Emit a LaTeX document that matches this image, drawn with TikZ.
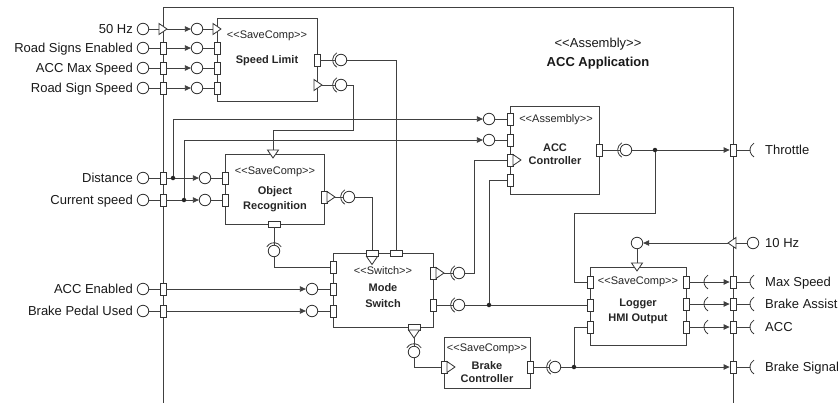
\documentclass[tikz,border=0pt]{standalone}
\usepackage{fontspec}
\setmainfont{Liberation Sans}[Ligatures=TeXOff]
\usetikzlibrary{arrows.meta}
\newcommand\mylbl{\fontsize{13}{15}\selectfont}
\newcommand\mytxt{\fontsize{11}{13}\selectfont}
\begin{document}
\begin{tikzpicture}[x=1pt,y=-1pt,
  wire/.style={draw=black!75,line width=0.8pt},
  arr/.style={wire,-{Triangle[length=6pt,width=5.5pt]}},
  comp/.style={rectangle,draw=black!75,line width=0.8pt,fill=white,inner sep=0pt},
  vport/.style={rectangle,draw=black!80,line width=0.8pt,fill=white,inner sep=0pt,minimum width=6pt,minimum height=12pt},
  hport/.style={rectangle,draw=black!80,line width=0.8pt,fill=white,inner sep=0pt,minimum width=12pt,minimum height=6pt},
  ball/.style={circle,draw=black!80,line width=0.8pt,fill=white,inner sep=0pt,minimum size=11.5pt},
  dot/.style={circle,fill=black!85,inner sep=0pt,minimum size=4.5pt},
  lbl/.style={inner sep=0pt,font=\mylbl,text=black!90,yshift=-4.6pt},
  txt/.style={inner sep=0pt,font=\mytxt,text=black!85,anchor=base,yshift=-3.9pt},
  btxt/.style={inner sep=0pt,font=\mytxt\bfseries,text=black!85,anchor=base,yshift=-3.9pt},
  ttl/.style={inner sep=0pt,font=\mylbl,text=black!90,anchor=base,yshift=-4.6pt},
  bttl/.style={inner sep=0pt,font=\mylbl\bfseries,text=black!90,anchor=base,yshift=-4.6pt},
  trir/.pic={\draw[black!80,line width=0.8pt,fill=white] (0,-5.5) -- (8,0) -- (0,5.5) -- cycle;},
  tril/.pic={\draw[black!80,line width=0.8pt,fill=white] (0,-5.5) -- (-8,0) -- (0,5.5) -- cycle;},
  trid/.pic={\draw[black!80,line width=0.8pt,fill=white] (-5.5,0) -- (0,8) -- (5.5,0) -- cycle;},
  sockl/.pic={\draw[black!80,line width=0.8pt] (120:8.3) arc[start angle=120,end angle=240,radius=8.3];},
  sockt/.pic={\draw[black!80,line width=0.8pt] (210:8.3) arc[start angle=210,end angle=330,radius=8.3];},
  sockr/.pic={\draw[black!80,line width=0.8pt] (120:8) arc[start angle=120,end angle=240,radius=8];}
]
\useasboundingbox (0,0) rectangle (838,402);
% assembly frame
\draw[wire] (163,410) -- (163,7) -- (733,7) -- (733,410);
\node[ttl] (asst) at (598,43) {<<Assembly>>};
\node[bttl] (assn) at (598,62) {ACC Application};

% component boxes
\node[comp,minimum width=100pt,minimum height=83pt] (sl) at (267,59.5) {};
\node[comp,minimum width=99pt,minimum height=70pt] (objrec) at (274.5,189) {};
\node[comp,minimum width=89pt,minimum height=88pt] (acc) at (554.5,150) {};
\node[comp,minimum width=100pt,minimum height=74pt] (ms) at (383,290) {};
\node[comp,minimum width=86pt,minimum height=51pt] (br) at (487,362.5) {};
\node[comp,minimum width=96pt,minimum height=78pt] (lg) at (638,306) {};

\node[txt] (slt) at (267,35) {<<SaveComp>>};
\node[btxt] (sln) at (267,60) {Speed Limit};
\node[txt] (ort) at (275,171) {<<SaveComp>>};
\node[btxt] (orn1) at (275,191) {Object};
\node[btxt] (orn2) at (275,206) {Recognition};
\node[txt] (acct) at (556,119) {<<Assembly>>};
\node[btxt] (accn1) at (555,148) {ACC};
\node[btxt] (accn2) at (555,161) {Controller};
\node[txt] (mst) at (383,271) {<<Switch>>};
\node[btxt] (msn1) at (383,288) {Mode};
\node[btxt] (msn2) at (383,304) {Switch};
\node[txt] (brt) at (487,348) {<<SaveComp>>};
\node[btxt] (brn1) at (487,366) {Brake};
\node[btxt] (brn2) at (487,379) {Controller};
\node[txt] (lgt) at (638,281) {<<SaveComp>>};
\node[btxt] (lgn1) at (638,303) {Logger};
\node[btxt] (lgn2) at (638,318) {HMI Output};

% ---- 50 Hz input
\node[ball] (o50) at (143,29) {};
\node[lbl,anchor=base east] (l50) at (133,29) {50 Hz};
\coordinate (f50w) at (159,29);
\coordinate (f50e) at (167,29);
\pic at (159,29) {trir};
\node[ball] (i50) at (197,29) {};
\coordinate (s50w) at (213,29);
\pic at (213,29) {trir};
\draw[wire] (o50) -- (f50w);
\draw[arr] (f50e) -- (i50);
\draw[wire] (i50) -- (s50w);

% ---- other Speed Limit inputs
\foreach \n/\y/\t in {RSE/48/Road Signs Enabled,AMS/68/ACC Max Speed,RSS/88/Road Sign Speed}{
  \node[vport] (f\n) at (163,\y) {};
  \node[ball] (o\n) at (143,\y) {};
  \node[ball] (i\n) at (197,\y) {};
  \node[vport] (s\n) at (217,\y) {};
  \node[lbl,anchor=base east] (l\n) at (133,\y) {\t};
  \draw[wire] (o\n) -- (f\n);
  \draw[arr] (f\n) -- (i\n);
  \draw[wire] (i\n) -- (s\n);
}

% ---- Distance / Current speed
\node[vport] (fDist) at (163,178) {};
\node[ball] (oDist) at (143,178) {};
\node[lbl,anchor=base east] (lDist) at (133,178) {Distance};
\node[dot] (jDist) at (173,178) {};
\node[ball] (iDist) at (205,178) {};
\node[vport] (orL1) at (225,178) {};
\node[vport] (fCur) at (163,200) {};
\node[ball] (oCur) at (143,200) {};
\node[lbl,anchor=base east] (lCur) at (133,200) {Current speed};
\node[dot] (jCur) at (184,200) {};
\node[ball] (iCur) at (205,200) {};
\node[vport] (orL2) at (225,200) {};
\node[ball] (aB1) at (489,119) {};
\node[ball] (aB2) at (489,140) {};
\node[vport] (accL1) at (510,119) {};
\node[vport] (accL2) at (510,140) {};
\node[vport] (accL3) at (510,160) {};
\pic at (513,160) {trir};
\node[vport] (accL4) at (510,180) {};
\draw[wire] (oDist) -- (fDist);
\draw[wire] (fDist) -- (jDist);
\draw[arr] (jDist) -- (iDist);
\draw[wire] (iDist) -- (orL1);
\draw[arr] (jDist) |- (aB1);
\draw[wire] (aB1) -- (accL1);
\draw[wire] (oCur) -- (fCur);
\draw[wire] (fCur) -- (jCur);
\draw[arr] (jCur) -- (iCur);
\draw[wire] (iCur) -- (orL2);
\draw[arr] (jCur) |- (aB2);
\draw[wire] (aB2) -- (accL2);

% ---- ACC Enabled / Brake Pedal Used
\node[vport] (fEn) at (163,289) {};
\node[ball] (oEn) at (143,289) {};
\node[lbl,anchor=base east] (lEn) at (133,289) {ACC Enabled};
\node[ball] (iEn) at (312,289) {};
\node[vport] (msL2) at (333,289) {};
\node[vport] (fBrk) at (163,311) {};
\node[ball] (oBrk) at (143,311) {};
\node[lbl,anchor=base east] (lBrk) at (133,311) {Brake Pedal Used};
\node[ball] (iBrk) at (312,311) {};
\node[vport] (msL3) at (333,311) {};
\draw[wire] (oEn) -- (fEn);
\draw[arr] (fEn) -- (iEn);
\draw[wire] (iEn) -- (msL2);
\draw[wire] (oBrk) -- (fBrk);
\draw[arr] (fBrk) -- (iBrk);
\draw[wire] (iBrk) -- (msL3);

% ---- Speed Limit outputs
\node[vport] (slO1) at (317,60) {};
\node[ball] (bSL1) at (341,60) {};
\pic at (341,60) {sockl};
\coordinate (slO2e) at (322,85);
\pic at (314,85) {trir};
\node[ball] (bSL2) at (341,85) {};
\pic at (341,85) {sockl};
\node[hport] (msT1) at (372,253) {};
\pic at (372,256.5) {trid};
\node[hport] (msT2) at (396,253) {};
\coordinate (orT) at (273,150);
\pic at (273,150) {trid};
\coordinate (k1) at (353,130);
\draw[wire] (slO1) -- (bSL1);
\draw[wire] (bSL1) -| (msT2);
\draw[wire] (slO2e) -- (bSL2);
\draw[wire] (bSL2) -| (k1) -| (orT);

% ---- Object Recognition outputs
\node[vport] (orR) at (324,197) {};
\pic at (327,197) {trir};
\coordinate (orRe) at (335,197);
\node[ball] (bOR1) at (349,197) {};
\pic at (349,197) {sockl};
\draw[wire] (orRe) -- (bOR1);
\draw[wire] (bOR1) -| (msT1);
\node[hport] (orB) at (274,224) {};
\node[ball] (bOR2) at (274,251) {};
\pic at (274,251) {sockt};
\node[vport] (msL1) at (333,267) {};
\draw[wire] (orB) -- (bOR2);
\draw[wire] (bOR2) |- (msL1);

% ---- Mode Switch outputs
\node[vport] (msR1) at (433,273) {};
\pic at (436,273) {trir};
\coordinate (msR1e) at (444,273);
\node[ball] (bMS1) at (459,273) {};
\pic at (459,273) {sockl};
\coordinate (k2) at (474,273);
\draw[wire] (msR1e) -- (bMS1);
\draw[wire] (bMS1) -- (k2) |- (accL3);
\node[vport] (msR2) at (433,305) {};
\node[ball] (bMS2) at (459,305) {};
\pic at (459,305) {sockl};
\node[dot] (jMS) at (489,305) {};
\node[vport] (lgL2) at (590,305) {};
\draw[wire] (msR2) -- (bMS2);
\draw[wire] (bMS2) -- (jMS);
\draw[wire] (jMS) -- (lgL2);
\draw[wire] (jMS) |- (accL4);
\node[hport] (msB) at (414,327) {};
\pic at (414,330) {trid};
\coordinate (msBe) at (414,338);
\node[ball] (bMS3) at (414,352) {};
\pic at (414,352) {sockt};
\node[vport] (brL) at (444,367) {};
\pic at (447,367) {trir};
\draw[wire] (msBe) -- (bMS3);
\draw[wire] (bMS3) |- (brL);

% ---- Brake Controller output
\node[vport] (brR) at (530,367) {};
\node[ball] (bBR) at (555,367) {};
\pic at (555,367) {sockl};
\node[dot] (jBR) at (574,367) {};
\node[vport] (fBS) at (733,367) {};
\node[vport] (lgL3) at (590,327) {};
\draw[wire] (brR) -- (bBR);
\draw[wire] (bBR) -- (jBR);
\draw[arr] (jBR) -- (fBS);
\draw[wire] (jBR) |- (lgL3);

% ---- ACC Controller output
\node[vport] (accR) at (599,150) {};
\node[ball] (bACC) at (626,150) {};
\pic at (626,150) {sockl};
\node[dot] (jACC) at (655,150) {};
\node[vport] (fThr) at (733,150) {};
\node[vport] (lgL1) at (590,282) {};
\coordinate (k3) at (655,213);
\coordinate (k4) at (574,213);
\draw[wire] (accR) -- (bACC);
\draw[wire] (bACC) -- (jACC);
\draw[arr] (jACC) -- (fThr);
\draw[wire] (jACC) -- (k3) -- (k4) |- (lgL1);

% ---- 10 Hz
\coordinate (lgT) at (637,263);
\pic at (637,263) {trid};
\node[ball] (b10) at (637,243) {};
\coordinate (f10w) at (728,243);
\coordinate (f10e) at (736,243);
\pic at (736,243) {tril};
\node[ball] (o10) at (753,243) {};
\node[lbl,anchor=base west] (l10) at (765,243) {10 Hz};
\draw[wire] (b10) -- (lgT);
\draw[arr] (f10w) -- (b10);
\draw[wire] (f10e) -- (o10);

% ---- Logger outputs
\foreach \n/\y in {MS/282,BA/304,AC/327}{
  \node[vport] (lgR\n) at (686,\y) {};
  \node[vport] (f\n) at (733,\y) {};
  \draw[arr] (lgR\n) -- (f\n);
  \pic at (712,\y) {sockr};
}

% ---- frame outputs (outside sockets)
\foreach \n/\y/\t in {Thr/150/Throttle,MS/282/Max Speed,BA/304/Brake Assist,AC/327/ACC,BS/367/Brake Signal}{
  \coordinate (s\n) at (750,\y);
  \draw[wire] (f\n) -- (s\n);
  \pic at (758,\y) {sockr};
  \node[lbl,anchor=base west] (l\n) at (765,\y) {\t};
}
\end{tikzpicture}
\end{document}
